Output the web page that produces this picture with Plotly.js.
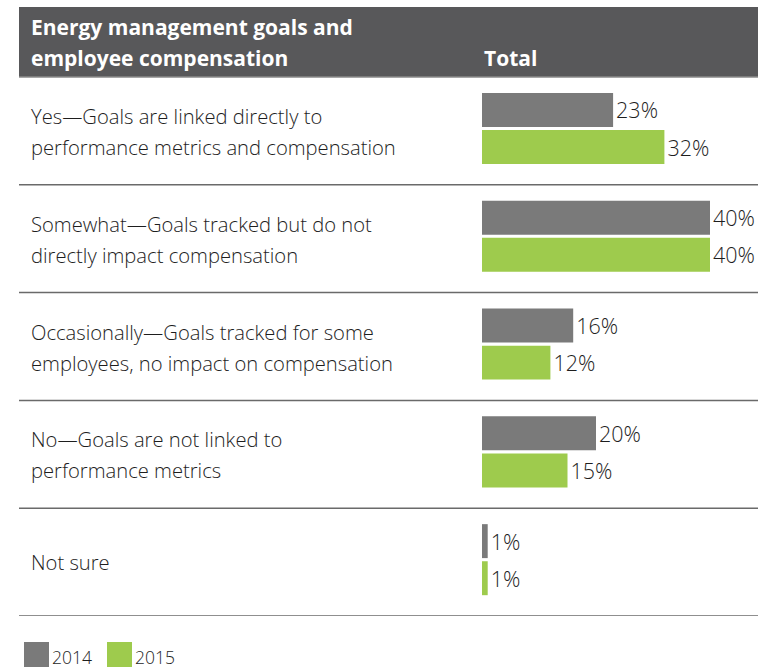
<!DOCTYPE html>
<html>
<head>
<meta charset="utf-8">
<script src="https://cdn.plot.ly/plotly-3.0.1.min.js"></script>
<style>html,body{margin:0;padding:0;background:#fff;}#chart{width:773px;height:670px;}</style>
</head>
<body>
<div id="chart"></div>
<script>
// ---- data ----
const categoryLines = [
  ["Yes\u2014Goals are linked directly to", "performance metrics and compensation"],
  ["Somewhat\u2014Goals tracked but do not", "directly impact compensation"],
  ["Occasionally\u2014Goals tracked for some", "employees, no impact on compensation"],
  ["No\u2014Goals are not linked to", "performance metrics"],
  ["Not sure"]
];
const seriesNames = ["2014", "2015"];
const values2014 = [23, 40, 16, 20, 1];
const values2015 = [32, 40, 12, 15, 1];
const headerLines = ["Energy management goals and", "employee compensation"];
const headerTotal = "Total";

// ---- layout helpers ----
const W = 773, H = 670;
const px = x => x / W;
const py = y => 1 - y / H;
const colors = ["#7a7a7a", "#9ecb4d"];
const FONT = "Open Sans, sans-serif";
const idx = categoryLines.map((_, i) => i);

const traces = [values2014, values2015].map((vals, k) => ({
  type: "bar",
  orientation: "h",
  name: seriesNames[k],
  x: vals,
  y: idx,
  width: 0.315,
  offset: k === 0 ? -0.352 : -0.008,
  marker: {color: colors[k]},
  text: vals.map(v => v + "%"),
  textposition: "outside",
  textfont: {family: FONT, size: 21.5, color: "#1e1e1e", weight: 300},
  cliponaxis: false,
  hoverinfo: "skip",
  showlegend: false
}));

const shapes = [];
const annotations = [];

// header band
shapes.push({type: "rect", xref: "paper", yref: "paper", x0: px(19), x1: px(758), y0: py(77), y1: py(7),
  fillcolor: "#58585a", line: {width: 0}, layer: "below"});
shapes.push({type: "line", xref: "paper", yref: "paper", x0: px(19), x1: px(758), y0: py(77), y1: py(77),
  line: {color: "#8a8a8a", width: 1.5}});

// separators
for (let i = 0; i < categoryLines.length; i++) {
  shapes.push({type: "line", xref: "paper", yref: "y", x0: px(19), x1: px(758), y0: i + 0.5, y1: i + 0.5,
    line: {color: "#6a6a6a", width: 1.5}});
}

// header text
headerLines.forEach((t, j) => {
  annotations.push({xref: "paper", yref: "paper", x: px(29), y: py(j === 0 ? 27 : 58), xanchor: "left", yanchor: "middle",
    text: "<b>" + t + "</b>", showarrow: false, font: {family: FONT, size: 21, color: "#fff"}});
});
annotations.push({xref: "paper", yref: "paper", x: px(482), y: py(58), xanchor: "left", yanchor: "middle",
  text: "<b>" + headerTotal + "</b>", showarrow: false, font: {family: FONT, size: 21, color: "#fff"}});

// category labels
categoryLines.forEach((lines, i) => {
  lines.forEach((t, j) => {
    const shift = lines.length === 1 ? 0 : (j === 0 ? 15 : -16);
    annotations.push({xref: "paper", yref: "y", x: px(29), y: i, yshift: shift, xanchor: "left", yanchor: "middle",
      text: t, showarrow: false, font: {family: FONT, size: 20.2, color: "#1e1e1e", weight: 300}});
  });
});

// legend
const legX = [24, 107];
seriesNames.forEach((n, k) => {
  shapes.push({type: "rect", xref: "paper", yref: "paper", x0: px(legX[k]), x1: px(legX[k] + 25), y0: py(667), y1: py(642),
    fillcolor: colors[k], line: {width: 0}});
  annotations.push({xref: "paper", yref: "paper", x: px(legX[k] + 27), y: 0, xanchor: "left", yanchor: "bottom",
    text: n, showarrow: false, borderpad: 0, font: {family: FONT, size: 17.5, color: "#1e1e1e", weight: 300}});
});

const layout = {
  width: W, height: H,
  margin: {l: 0, r: 0, t: 0, b: 0, pad: 0},
  paper_bgcolor: "#fff", plot_bgcolor: "rgba(0,0,0,0)",
  barmode: "overlay",
  xaxis: {domain: [px(482), 1], range: [0, (W - 482) / 5.7], visible: false, fixedrange: true},
  yaxis: {domain: [py(616), py(77)], range: [4.5, -0.5], visible: false, fixedrange: true},
  shapes: shapes,
  annotations: annotations,
  showlegend: false
};

Plotly.newPlot("chart", traces, layout, {displayModeBar: false, staticPlot: true});
</script>
</body>
</html>
